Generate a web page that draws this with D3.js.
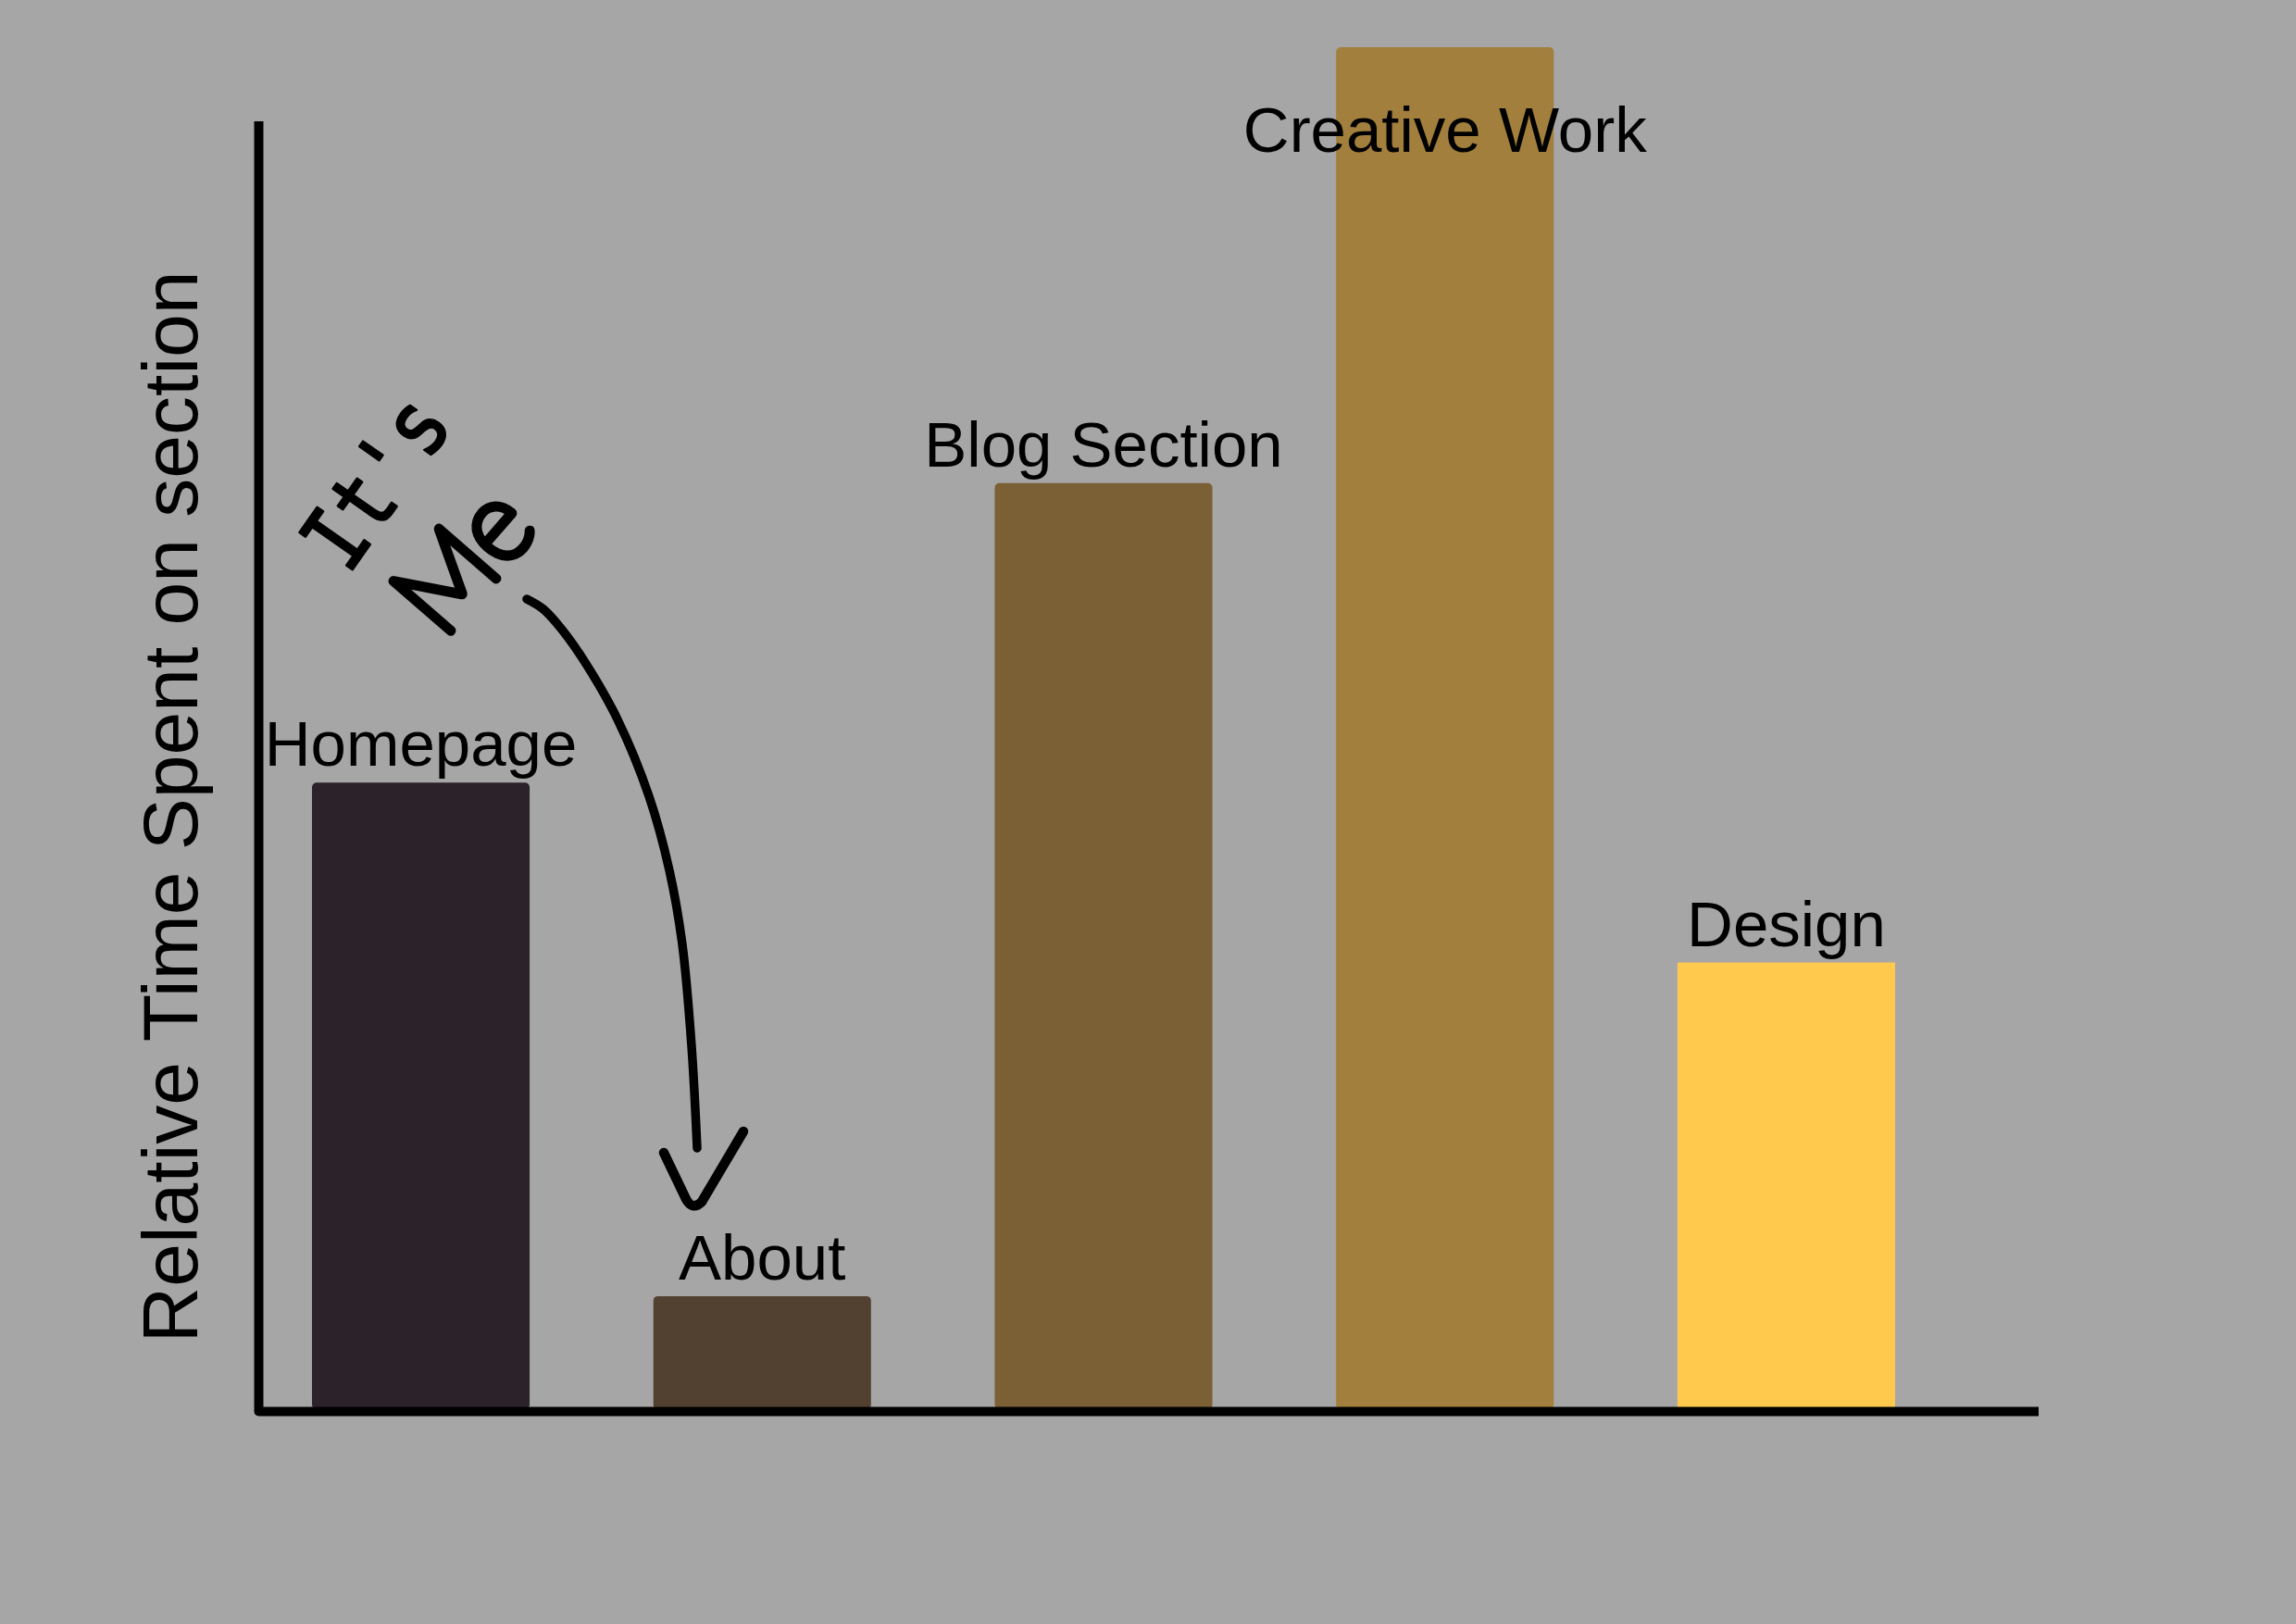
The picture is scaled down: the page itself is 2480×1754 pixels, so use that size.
<!DOCTYPE html>
<html><head><meta charset="utf-8">
<script src="https://cdn.jsdelivr.net/npm/d3@7"></script>
<style>html,body{margin:0;padding:0;background:#a6a6a6;} svg{display:block}</style>
</head><body>
<script>
// ---- data ----
const categories = ["Homepage", "About", "Blog Section", "Creative Work", "Design"];
const values = [4.6, 0.83, 6.8, 10, 3.28];
const colors = ["#2c222a", "#524030", "#7b6036", "#a27f3c", "#fec94d"];
const yAxisTitle = "Relative Time Spent on section";
const noteLines = ["It's", "Me"];

// ---- layout ----
const W = 2480, H = 1754;
const svg = d3.select("body").append("svg").attr("width", W).attr("height", H);
svg.append("rect").attr("width", W).attr("height", H).attr("fill", "#a6a6a6");

const x = d3.scaleBand().domain(categories).range([337, 2047]).paddingInner(0.3625).paddingOuter(0);
const y = d3.scaleLinear().domain([0, 10]).range([1522, 51]);
const data = categories.map((c, i) => ({ c, v: values[i], col: colors[i] }));

// bars
svg.append("g").selectAll("rect").data(data).join("rect")
  .attr("x", d => x(d.c))
  .attr("y", d => y(d.v))
  .attr("width", x.bandwidth())
  .attr("height", d => y(0) - y(d.v))
  .attr("rx", (d, i) => i === categories.length - 1 ? 0 : 5)
  .attr("fill", d => d.col);

// labels
svg.append("g").selectAll("text").data(data).join("text")
  .attr("x", d => x(d.c) + x.bandwidth() / 2)
  .attr("y", d => Math.max(y(d.v) - 18, 164))
  .attr("text-anchor", "middle")
  .attr("font-family", "'Liberation Sans', Arial, sans-serif")
  .attr("font-size", 69)
  .attr("fill", "#000")
  .text(d => d.c);

// axes (plain lines, no ticks)
const axisX0 = 279.5, axisTop = 131, axisY0 = 1524.5, axisRight = 2202;
svg.append("path")
  .attr("d", `M${axisX0},${axisTop} V${axisY0} H${axisRight}`)
  .attr("fill", "none").attr("stroke", "#000").attr("stroke-width", 10)
  .attr("stroke-linejoin", "round");

// y axis title
svg.append("text")
  .attr("transform", `translate(213,871.5) rotate(-90)`)
  .attr("text-anchor", "middle")
  .attr("font-family", "'Liberation Sans', Arial, sans-serif")
  .attr("font-size", 84)
  .attr("fill", "#000")
  .text(yAxisTitle);

// ---- handwritten annotation ----
const noteLayout = [
  { tx: 376, ty: 622, rot: -55, size: 96, len: 200, font: "'DejaVu Sans Mono', monospace", weight: 400, sw: 2.5, adj: "spacingAndGlyphs" },
  { tx: 478, ty: 692, rot: -49, size: 118, len: 160, font: "Lato, 'Open Sans', sans-serif", weight: 100, sw: 10, adj: "spacingAndGlyphs" }
];
noteLines.forEach((t, i) => {
  const L = noteLayout[i];
  svg.append("text")
    .attr("transform", `translate(${L.tx},${L.ty}) rotate(${L.rot})`)
    .attr("font-family", L.font)
    .attr("font-weight", L.weight)
    .attr("font-size", L.size)
    .attr("textLength", L.len)
    .attr("lengthAdjust", L.adj)
    .attr("fill", "#000").attr("stroke", "#000")
    .attr("stroke-width", L.sw).attr("stroke-linejoin", "round").attr("stroke-linecap", "round")
    .text(t);
});

const arrowPts = [[569,647],[587,658],[607,680],[633,717],[667,777],[701,860],[723,940],[737,1020],[747,1130],[753,1240]];
svg.append("path")
  .attr("d", d3.line().curve(d3.curveCatmullRom.alpha(0.5))(arrowPts))
  .attr("fill", "none").attr("stroke", "#000").attr("stroke-width", 9.5)
  .attr("stroke-linecap", "round");
svg.append("path")
  .attr("d", "M717,1245 L741,1295 Q748,1308 758,1298 L803,1222")
  .attr("fill", "none").attr("stroke", "#000").attr("stroke-width", 10.5)
  .attr("stroke-linecap", "round").attr("stroke-linejoin", "round");
</script>
</body></html>
